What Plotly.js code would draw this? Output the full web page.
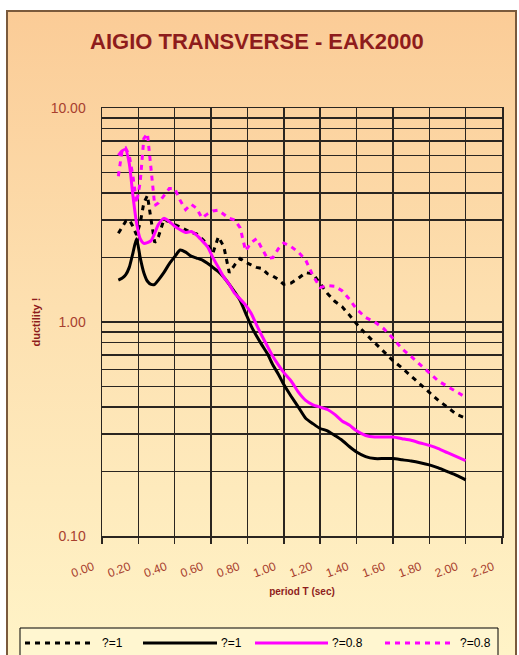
<!DOCTYPE html>
<html>
<head>
<meta charset="utf-8">
<script src="https://cdn.plot.ly/plotly-3.0.1.min.js"></script>
<style>
  html, body { margin: 0; padding: 0; background: #ffffff; }
  #frame {
    position: absolute; left: 6px; top: 10px; width: 511px; height: 660px;
    border: 2px solid #7a5a3c; box-sizing: border-box;
    background: linear-gradient(to bottom, #fbcc97 0%, #fde0b0 45%, #fff4c8 100%);
  }
  #chart { position: absolute; left: 0; top: 0; width: 519px; height: 655px; }
</style>
</head>
<body>
<div id="frame"></div>
<div id="chart"></div>
<script>
// Period T (sec)
var period = [0.09, 0.11, 0.13, 0.15, 0.17, 0.19, 0.21, 0.23, 0.25, 0.27, 0.29, 0.31, 0.34, 0.37, 0.40,
  0.43, 0.46, 0.49, 0.52, 0.55, 0.58, 0.61, 0.64, 0.67, 0.70, 0.73, 0.76, 0.79, 0.82, 0.85, 0.88,
  0.91, 0.94, 0.97, 1.00, 1.04, 1.08, 1.12, 1.16, 1.20, 1.24, 1.28, 1.32, 1.36, 1.40, 1.45, 1.50,
  1.55, 1.60, 1.65, 1.70, 1.75, 1.80, 1.85, 1.90, 1.95, 2.00];

// ductility, black dashed (?=1)
var blackDashed = [2.6, 2.75, 2.95, 3.0, 2.8, 2.55, 2.9, 3.6, 3.9, 3.0, 2.35, 2.5, 3.0, 2.95, 2.85,
  2.78, 2.7, 2.62, 2.58, 2.45, 2.3, 2.1, 2.5, 2.25, 1.7, 1.85, 1.98, 1.9, 1.85, 1.8, 1.78,
  1.68, 1.64, 1.58, 1.5, 1.52, 1.6, 1.7, 1.68, 1.52, 1.36, 1.25, 1.18, 1.08, 0.98, 0.88, 0.8,
  0.73, 0.66, 0.61, 0.56, 0.51, 0.47, 0.43, 0.4, 0.37, 0.355];

// ductility, black solid (?=1)
var blackSolid = [1.57, 1.6, 1.66, 1.8, 2.1, 2.45, 2.0, 1.7, 1.55, 1.5, 1.5, 1.57, 1.7, 1.87, 2.02,
  2.17, 2.12, 2.03, 1.99, 1.95, 1.88, 1.8, 1.72, 1.62, 1.5, 1.38, 1.26, 1.1, 0.96, 0.86, 0.78,
  0.71, 0.63, 0.57, 0.51, 0.45, 0.4, 0.355, 0.335, 0.318, 0.31, 0.295, 0.28, 0.262, 0.247, 0.235, 0.23,
  0.23, 0.23, 0.227, 0.224, 0.22, 0.215, 0.208, 0.2, 0.192, 0.183];

// ductility, magenta solid (?=0.8)
var magentaSolid = [6.0, 6.3, 6.4, 5.5, 3.9, 2.9, 2.45, 2.33, 2.35, 2.4, 2.6, 2.85, 3.05, 2.95, 2.8,
  2.7, 2.62, 2.65, 2.55, 2.4, 2.25, 2.0, 1.8, 1.62, 1.5, 1.36, 1.28, 1.2, 1.1, 0.97, 0.86,
  0.77, 0.69, 0.63, 0.58, 0.53, 0.47, 0.43, 0.41, 0.4, 0.39, 0.37, 0.345, 0.33, 0.31, 0.295, 0.29,
  0.29, 0.29, 0.285, 0.28, 0.272, 0.265, 0.256, 0.245, 0.235, 0.225];

// ductility, magenta dotted (?=0.8)
var magentaDotted = [4.8, 6.3, 6.5, 6.0, 4.8, 3.6, 4.5, 7.2, 7.6, 5.0, 3.5, 3.6, 3.9, 4.2, 4.2,
  3.7, 3.35, 3.55, 3.4, 3.06, 3.2, 3.3, 3.33, 3.2, 3.05, 3.0, 2.75, 2.15, 2.35, 2.45, 2.2,
  1.98, 2.0, 2.2, 2.34, 2.25, 2.12, 1.95, 1.65, 1.45, 1.48, 1.47, 1.4, 1.28, 1.15, 1.05, 1.0,
  0.93, 0.84, 0.75, 0.69, 0.63, 0.58, 0.53, 0.5, 0.47, 0.445];

var seriesNames = ['?=1', '?=1', '?=0.8', '?=0.8'];
var seriesColors = ['#000000', '#000000', '#ff00ff', '#ff00ff'];
var seriesDash = ['5px,5px', 'solid', 'solid', '5px,5px'];

// Axis ticks
var xTickVals = [0, 0.2, 0.4, 0.6, 0.8, 1.0, 1.2, 1.4, 1.6, 1.8, 2.0, 2.2];
var xTickText = ['0.00', '0.20', '0.40', '0.60', '0.80', '1.00', '1.20', '1.40', '1.60', '1.80', '2.00', '2.20'];
var yTickVals = [0.1, 0.2, 0.3, 0.4, 0.5, 0.6, 0.7, 0.8, 0.9, 1, 2, 3, 4, 5, 6, 7, 8, 9, 10];
var yTickText = ['0.10', '', '', '', '', '', '', '', '', '1.00', '', '', '', '', '', '', '', '', '10.00'];

var FONT = 'Liberation Sans, Arial, sans-serif';
var GRID = '#2a2520';

var seriesY = [blackDashed, blackSolid, magentaSolid, magentaDotted];
var traces = seriesY.map(function (ys, i) {
  var ln = { color: seriesColors[i], width: 3, dash: seriesDash[i] };
  if (seriesDash[i] === 'solid') { ln.shape = 'spline'; ln.smoothing = 0.6; }
  return { x: period, y: ys, name: seriesNames[i], mode: 'lines', line: ln };
});

// Legend (drawn in paper coordinates below the plot): box + 4 keys
var L = 102, R = 17, T = 108, B = 119, W = 519, H = 655;
function px(xp) { return (xp - L) / (W - L - R); }
function py(yp) { return (H - B - yp) / (H - T - B); }
var legendKeyX = [[25, 95], [143, 217], [255, 328], [385, 452]];
var legendTextX = [100, 219, 330, 458];
var legendY = 643;

var shapes = [{
  type: 'rect', xref: 'paper', yref: 'paper',
  x0: px(20), x1: px(498), y0: py(662), y1: py(628),
  line: { color: '#000000', width: 1 }, fillcolor: '#fff6d0', layer: 'above'
}];
var annotations = [];
for (var i = 0; i < 4; i++) {
  shapes.push({
    type: 'line', xref: 'paper', yref: 'paper',
    x0: px(legendKeyX[i][0]), x1: px(legendKeyX[i][1]), y0: py(legendY), y1: py(legendY),
    line: { color: seriesColors[i], width: 3, dash: seriesDash[i] }, layer: 'above'
  });
  annotations.push({
    xref: 'paper', yref: 'paper', x: px(legendTextX[i]), y: py(legendY),
    xanchor: 'left', yanchor: 'middle', showarrow: false, text: seriesNames[i],
    font: { family: FONT, size: 12, color: '#000000' }
  });
}

var layout = {
  width: W, height: H,
  paper_bgcolor: 'rgba(0,0,0,0)', plot_bgcolor: 'rgba(0,0,0,0)',
  margin: { l: L, r: R, t: T, b: B },
  font: { family: FONT, color: '#000000' },
  showlegend: false,
  title: {
    text: 'AIGIO TRANSVERSE - EAK2000',
    font: { family: FONT, size: 22, color: '#8e1c1c', weight: 'bold' },
    x: 0.495, xanchor: 'center', xref: 'container',
    y: 1 - 41 / 655, yanchor: 'middle', yref: 'container'
  },
  xaxis: {
    range: [0, 2.2],
    tickmode: 'array', tickvals: xTickVals, ticktext: xTickText,
    showgrid: true, gridcolor: GRID, gridwidth: 1.5, zeroline: false,
    ticks: 'outside', ticklen: 6, tickcolor: GRID, tickwidth: 1.5,
    showline: true, linecolor: GRID, linewidth: 1.5, mirror: true,
    tickangle: -20, ticklabelstandoff: 12, ticklabelshift: -9,
    tickfont: { family: FONT, size: 12, color: '#a8402e' },
    title: { text: 'period T (sec)', standoff: 8,
             font: { family: FONT, size: 10, color: '#8e1c1c', weight: 'bold' } }
  },
  yaxis: {
    type: 'log', range: [-1, 1],
    tickmode: 'array', tickvals: yTickVals, ticktext: yTickText,
    showgrid: true, gridcolor: GRID, gridwidth: 1.5,
    ticks: '', ticklabelstandoff: 12,
    showline: true, linecolor: GRID, linewidth: 1.5, mirror: true, zeroline: false,
    tickfont: { family: FONT, size: 14, color: '#a8402e' },
    title: { text: 'ductility !', standoff: 8,
             font: { family: FONT, size: 11, color: '#8e1c1c', weight: 'bold' } }
  },
  shapes: shapes,
  annotations: annotations
};

Plotly.newPlot('chart', traces, layout, { displayModeBar: false, staticPlot: true });
</script>
</body>
</html>
